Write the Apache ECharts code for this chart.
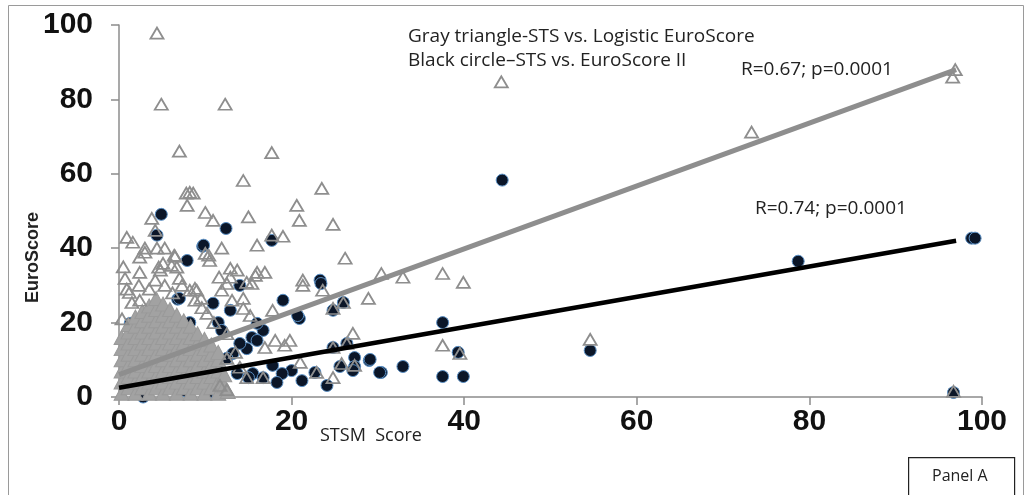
<!DOCTYPE html>
<html>
<head>
<meta charset="utf-8">
<script src="https://cdn.jsdelivr.net/npm/echarts/dist/echarts.min.js"></script>
<style>
  html, body { margin: 0; padding: 0; background: #fff; }
  #main { width: 1028px; height: 495px; }
</style>
</head>
<body>
<div id="main"></div>
<script>
// axis ticks
var xTicks = [0, 20, 40, 60, 80, 100];
var yTicks = [0, 20, 40, 60, 80, 100];

// STS vs. EuroScore II (black circles)
var circlePoints = [
  [4.9, 49.1], [4.4, 43.5], [12.4, 45.3], [9.7, 40.5], [17.7, 42.1], [7.9, 36.7],
  [23.3, 31.4], [14, 30], [19, 26], [23.4, 30.5], [6.8, 26.3], [10.9, 25.2],
  [12.9, 23.3], [20.9, 21.1], [8.2, 20], [11.5, 20], [11.9, 17.9], [24.8, 23.3],
  [26, 25.4], [16.7, 17.9], [15.4, 16], [16, 15.2], [37.5, 20], [39.3, 12],
  [14.8, 13], [14, 14.4], [13.2, 11.7], [12.5, 10.4], [24.8, 13.3], [26.4, 14.4],
  [27.3, 10.6], [29, 9.8], [25.6, 8.2], [27.3, 8.2], [30.4, 6.6], [32.9, 8.2],
  [37.5, 5.5], [39.9, 5.5], [20, 7.1], [21.2, 4.4], [22.7, 6.6], [24.1, 3.1],
  [17.8, 8.5], [18.9, 6.3], [15.5, 6.3], [16.7, 5.2], [18.3, 3.9], [13.7, 6.3],
  [15, 5.2], [10.2, 0.9], [11.7, 2.6], [6.7, 2.6], [7.6, 1.7], [2.8, 0],
  [11.7, 7.1], [10.2, 5.2], [16, 19.8], [1.3, 19.8], [20.7, 21.9], [29.1, 10.1],
  [27.1, 7.1], [30.2, 6.6], [9.8, 40.8], [7, 26.5],
  [54.6, 12.5], [44.4, 58.3], [78.7, 36.5], [98.8, 42.7], [99.2, 42.7], [96.7, 1.2]
];

// STS vs. Logistic EuroScore (gray triangles), scattered points
var trianglePoints = [
  [4.4, 97.8], [4.9, 78.7], [12.3, 78.7], [7.0, 66.1], [17.7, 65.7], [14.4, 58.2],
  [23.5, 56.1], [7.8, 54.8], [8.2, 55], [8.6, 54.8], [7.9, 51.5], [20.6, 51.5],
  [10.0, 49.6], [3.8, 48.0], [10.9, 47.5], [15.0, 48.4], [20.9, 47.5], [24.8, 46.4],
  [4.2, 44.8], [19.0, 43.2], [17.7, 43.5], [0.9, 42.9], [1.6, 41.6], [3.0, 40],
  [4.4, 40], [5.3, 40], [11.9, 40], [16.0, 40.8], [26.2, 37.3], [2.4, 37.6],
  [3.0, 38.9], [6.5, 37.8], [10.0, 38.6], [10.5, 36.7], [5.1, 35.9], [6.1, 35.4],
  [6.7, 34.9], [4.8, 34.1], [2.4, 33.5], [12.9, 34.6], [13.7, 34.1], [16.0, 33.5],
  [16.9, 33.5], [21.3, 31.4], [12.9, 32.2], [15.8, 32.7], [14.8, 30.8], [15.4, 30.5],
  [21.3, 30.0], [30.4, 33.2], [32.9, 32.2], [37.5, 33.2], [39.9, 30.8], [28.9, 26.5],
  [23.6, 28.7], [26, 25.4], [24.8, 23.8], [17.8, 23.3], [15.2, 21.9], [14.4, 26.5],
  [13.1, 26], [9.0, 28.7], [8.2, 28.7], [8.8, 26], [10.2, 22.5], [9.6, 24],
  [14.4, 23.8], [18.1, 15.2], [19.8, 15.2], [19.2, 13.9], [16.9, 13.3], [27.1, 17.1],
  [37.5, 13.9], [39.5, 11.7], [25.8, 9.0], [27.3, 8.5], [22.9, 6.6], [24.8, 5.2],
  [21, 9.3], [16.7, 5.2], [14.8, 5.2], [11.7, 3.1], [12.5, 10.4], [24.8, 13.3],
  [26.4, 14.4], [0.7, 31.9], [4.2, 31.4], [7, 31.9], [7.3, 30], [5.3, 30],
  [1.2, 28.1], [1.5, 25.4], [2.4, 26], [8.8, 29.2], [10.4, 38.1], [11.6, 32.2],
  [12.5, 30.5], [11.9, 28.7], [0.35, 21], [4.6, 34.9], [6.4, 38.1], [2.3, 30],
  [3.5, 29], [6.2, 28], [9.5, 26.5], [11, 20], [12.5, 17], [13.5, 12], [14, 8],
  [12.5, 2], [0.5, 35], [0.9, 29],
  [54.6, 15.5], [44.3, 84.7], [73.3, 71.2], [96.6, 86], [96.9, 88], [96.7, 1.5]
];

// the dense gray mass of triangles near the origin
var triangleCluster = [
  [0.3, 1], [0.3, 4], [0.3, 7], [0.3, 10], [0.3, 13], [0.3, 16],
  [1.1, 2.5], [1.1, 5.5], [1.1, 8.5], [1.1, 11.5], [1.1, 14.5], [1.1, 17.5], [1.1, 19.5],
  [1.9, 1], [1.9, 4], [1.9, 7], [1.9, 10], [1.9, 13], [1.9, 16], [1.9, 19], [1.9, 21.5],
  [2.7, 2.5], [2.7, 5.5], [2.7, 8.5], [2.7, 11.5], [2.7, 14.5], [2.7, 17.5], [2.7, 20.5], [2.7, 23],
  [3.5, 1], [3.5, 4], [3.5, 7], [3.5, 10], [3.5, 13], [3.5, 16], [3.5, 19], [3.5, 22], [3.5, 24.5],
  [4.3, 2.5], [4.3, 5.5], [4.3, 8.5], [4.3, 11.5], [4.3, 14.5], [4.3, 17.5], [4.3, 20.5], [4.3, 23.5], [4.3, 26.5],
  [5.1, 1], [5.1, 4], [5.1, 7], [5.1, 10], [5.1, 13], [5.1, 16], [5.1, 19], [5.1, 22], [5.1, 25],
  [5.9, 2.5], [5.9, 5.5], [5.9, 8.5], [5.9, 11.5], [5.9, 14.5], [5.9, 17.5], [5.9, 20.5], [5.9, 23.5],
  [6.7, 1], [6.7, 4], [6.7, 7], [6.7, 10], [6.7, 13], [6.7, 16], [6.7, 19], [6.7, 22],
  [7.5, 2.5], [7.5, 5.5], [7.5, 8.5], [7.5, 11.5], [7.5, 14.5], [7.5, 17.5], [7.5, 20.5],
  [8.3, 1], [8.3, 4], [8.3, 7], [8.3, 10], [8.3, 13], [8.3, 16], [8.3, 19],
  [9.1, 2.5], [9.1, 5.5], [9.1, 8.5], [9.1, 11.5], [9.1, 14.5], [9.1, 17],
  [9.9, 1], [9.9, 4], [9.9, 7], [9.9, 10], [9.9, 13], [9.9, 15.5],
  [10.7, 2.5], [10.7, 5.5], [10.7, 8.5], [10.7, 11.5], [10.7, 14],
  [11.5, 1], [11.5, 4], [11.5, 7], [11.5, 10], [11.5, 12],
  [12.2, 3], [12.2, 6], [12.6, 1.5]
];

// regression lines (end points)
var fitLogistic = [[0, 6], [97, 88]];
var fitEuroII = [[0, 2.5], [97, 42]];

var texts = {
  legend1: "Gray triangle-STS vs. Logistic EuroScore",
  legend2: "Black circle\u2013STS vs. EuroScore II",
  stat1: "R=0.67; p=0.0001",
  stat2: "R=0.74; p=0.0001",
  xName: "STSM  Score",
  yName: "EuroScore",
  panel: "Panel A"
};

var chart = echarts.init(document.getElementById("main"), null, { renderer: "canvas" });

var axisColor = "#8c8c8c";
var textFont = "'Open Sans', sans-serif";

var option = {
  backgroundColor: "#fff",
  animation: false,
  grid: { left: 119, right: 46, top: 25, bottom: 98 },
  xAxis: {
    type: "value",
    min: xTicks[0],
    max: xTicks[xTicks.length - 1],
    interval: xTicks[1] - xTicks[0],
    axisLine: { show: true, lineStyle: { color: axisColor, width: 1.5 } },
    axisTick: { show: true, length: 8, lineStyle: { color: axisColor, width: 1.5 } },
    splitLine: { show: false },
    axisLabel: {
      margin: 10,
      color: "#111",
      fontFamily: "'Liberation Sans', Arial, sans-serif",
      fontWeight: "bold",
      fontSize: 30
    }
  },
  yAxis: {
    type: "value",
    min: yTicks[0],
    max: yTicks[yTicks.length - 1],
    interval: yTicks[1] - yTicks[0],
    axisLine: { show: true, lineStyle: { color: axisColor, width: 1.5 } },
    axisTick: { show: true, length: 8, lineStyle: { color: axisColor, width: 1.5 } },
    splitLine: { show: false },
    axisLabel: {
      margin: 26,
      color: "#111",
      fontFamily: "'Liberation Sans', Arial, sans-serif",
      fontWeight: "bold",
      fontSize: 30
    }
  },
  series: [
    {
      name: "EuroScore II",
      type: "scatter",
      z: 2,
      symbol: "circle",
      symbolSize: 12,
      data: circlePoints,
      itemStyle: { color: "#0b1628", borderColor: "#5a8fc4", borderWidth: 1, opacity: 1 }
    },
    {
      name: "Logistic EuroScore cluster",
      type: "scatter",
      z: 3,
      symbol: "triangle",
      symbolSize: [15, 14],
      data: triangleCluster,
      itemStyle: { color: "#a2a2a2", borderColor: "#999", borderWidth: 1, opacity: 1 }
    },
    {
      name: "Logistic EuroScore",
      type: "scatter",
      z: 4,
      symbol: "triangle",
      symbolSize: [13, 11],
      data: trianglePoints,
      itemStyle: { color: "rgba(255,255,255,0)", borderColor: "#8e8e8e", borderWidth: 1.8, opacity: 1 }
    },
    {
      name: "fit logistic",
      type: "line",
      z: 5,
      data: fitLogistic,
      showSymbol: false,
      symbol: "none",
      lineStyle: { color: "#8e8e8e", width: 5 }
    },
    {
      name: "fit euro II",
      type: "line",
      z: 6,
      data: fitEuroII,
      showSymbol: false,
      symbol: "none",
      lineStyle: { color: "#000", width: 4.5 }
    }
  ],
  graphic: [
    {
      type: "rect",
      left: 6, top: 3, z: -10,
      shape: { width: 1015, height: 500 },
      style: { fill: "none", stroke: "#9a9a9a", lineWidth: 1 }
    },
    {
      type: "text", left: 408, top: 27,
      style: { text: texts.legend1, fill: "#222", font: "19px " + textFont }
    },
    {
      type: "text", left: 408, top: 51,
      style: { text: texts.legend2, fill: "#222", font: "19px " + textFont }
    },
    {
      type: "text", left: 741, top: 60,
      style: { text: texts.stat1, fill: "#222", font: "19px " + textFont }
    },
    {
      type: "text", left: 755, top: 199,
      style: { text: texts.stat2, fill: "#222", font: "19px " + textFont }
    },
    {
      type: "text", left: 320, top: 427,
      style: { text: texts.xName, fill: "#222", font: "18px " + textFont }
    },
    {
      type: "text", left: 24, top: 212, rotation: Math.PI / 2,
      style: { text: texts.yName, fill: "#222", font: "bold 18px 'Liberation Sans', Arial, sans-serif", align: "center", verticalAlign: "middle" }
    },
    {
      type: "rect",
      left: 908, top: 457,
      shape: { width: 106, height: 44 },
      style: { fill: "#fff", stroke: "#222", lineWidth: 1.2 }
    },
    {
      type: "text", left: 932, top: 468,
      style: { text: texts.panel, fill: "#222", font: "16px " + textFont }
    }
  ]
};

chart.setOption(option);
window.addEventListener("resize", function () { chart.resize(); });
</script>
</body>
</html>
